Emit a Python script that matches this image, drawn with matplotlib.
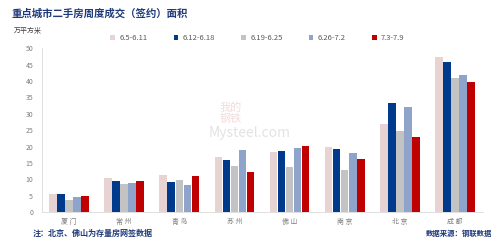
import numpy as np
import matplotlib
matplotlib.use('Agg')
import matplotlib.pyplot as plt

plt.rcParams['font.family'] = ['Noto Sans CJK SC', 'DejaVu Sans']

# 数据（万平方米）
cities = ['厦门', '常州', '青岛', '苏州', '佛山', '南京', '北京', '成都']
weeks = ['6.5-6.11', '6.12-6.18', '6.19-6.25', '6.26-7.2', '7.3-7.9']
w1 = [5.5, 10.5, 11.2, 16.8, 18.4, 19.8, 26.9, 47.3]
w2 = [5.5, 9.4, 9.3, 16.0, 18.7, 19.1, 33.2, 45.7]
w3 = [3.8, 8.6, 9.7, 14.0, 13.7, 12.8, 24.7, 40.9]
w4 = [4.5, 9.0, 8.2, 18.9, 19.5, 17.9, 32.1, 41.9]
w5 = [4.8, 9.6, 10.9, 12.3, 20.2, 16.1, 23.0, 39.7]
series = [w1, w2, w3, w4, w5]
colors = ['#E8D3D3', '#003A8C', '#C3C3C3', '#8EA4CA', '#C00000']

fig = plt.figure(figsize=(5, 2.41), dpi=100)
ax = fig.add_axes([0.083, 0.12, 0.882, 0.68])

x = np.arange(len(cities))
bw = 0.138
step = 0.146
for i in range(len(series)):
    ax.bar(x + (i - 2) * step, series[i], width=bw, color=colors[i], label=weeks[i], zorder=2)

ax.set_xlim(-0.5, len(cities) - 0.5)
ax.set_ylim(0, 50)
ax.set_yticks(range(0, 51, 5))
ax.set_xticks(x)
ax.set_xticklabels([' '.join(c) for c in cities])
ax.tick_params(axis='both', length=0, labelsize=5, colors='#7F7F7F')
ax.tick_params(axis='x', pad=4)
ax.tick_params(axis='y', pad=6)
for s in ['top', 'right']:
    ax.spines[s].set_visible(False)
for s in ['left', 'bottom']:
    ax.spines[s].set_color('#D9D9D9')
    ax.spines[s].set_linewidth(0.6)

# 图例
fig.legend(loc='center', bbox_to_anchor=(0.515, 0.842), ncol=5, frameon=False,
           fontsize=5.5, handlelength=0.6, handleheight=0.6, handletextpad=0.6,
           columnspacing=3.4, labelcolor='#595959')

# 水印
fig.text(0.5, 0.448, 'Mysteel.com', fontsize=10, color='#E3E3E3', ha='center', va='center', zorder=0)
fig.text(0.462, 0.53, '我的\n钢铁', fontsize=8, color='#F2DCDC', ha='center', va='center',
         linespacing=1.0, zorder=0)

# 标题和注释
fig.text(0.022, 0.945, '重点城市二手房周度成交（签约）面积', fontsize=7.5, fontweight='bold',
         color='#1F3A7A', va='center')
fig.text(0.028, 0.872, '万平方米', fontsize=5, color='#404040', va='center')
fig.text(0.066, 0.033, '注：北京、佛山为存量房网签数据', fontsize=5.8, fontweight='bold',
         color='#1F3A7A', va='center')
fig.text(0.985, 0.033, '数据来源：钢联数据', fontsize=5.3, fontweight='bold',
         color='#1F3A7A', va='center', ha='right')

fig.savefig('out.png', dpi=100)
